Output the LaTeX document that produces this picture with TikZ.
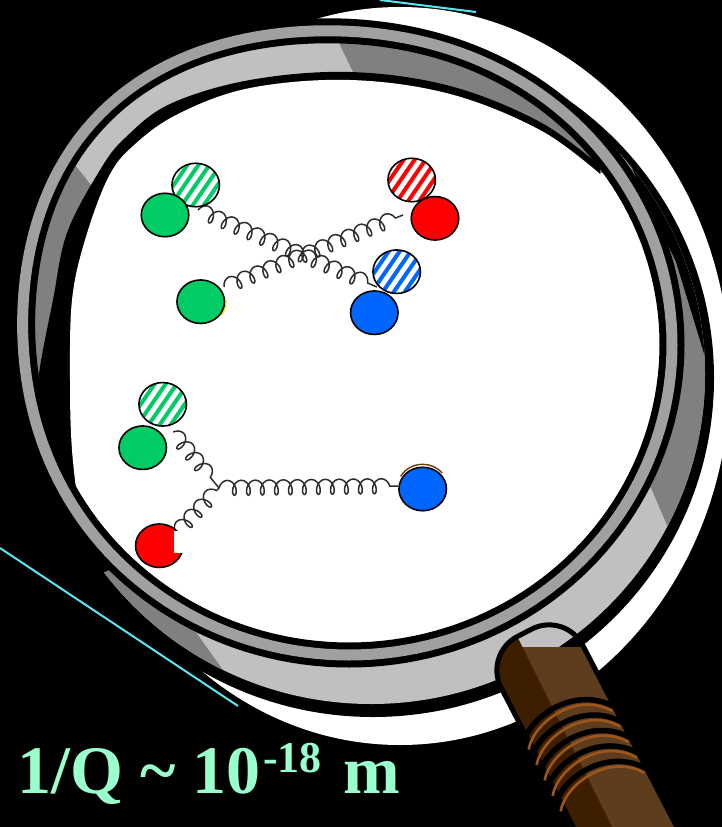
\documentclass[tikz,border=0pt]{standalone}
\usepackage{fontspec}
\setmainfont{Liberation Serif}
\usetikzlibrary{shapes.geometric,decorations.pathmorphing}

\definecolor{rimlight}{HTML}{C0C0C0}
\definecolor{rimdark}{HTML}{808080}
\definecolor{rimfront}{HTML}{A0A0A0}
\definecolor{qgreen}{RGB}{0,204,102}
\definecolor{qred}{RGB}{255,0,0}
\definecolor{qblue}{RGB}{0,102,255}
\definecolor{wooddark}{RGB}{61,31,0}
\definecolor{woodlight}{RGB}{94,60,30}
\definecolor{woodring}{RGB}{156,86,28}
\definecolor{mint}{RGB}{153,255,204}
\definecolor{ray}{RGB}{90,230,240}
\definecolor{spring}{RGB}{45,45,45}

\tikzset{
  declare function={rimr(\a)=1+0.07*(max(0,cos(\a-135)))^6;},
  ball/.style={ellipse, draw=black, line width=1.6pt, minimum width=47.5pt,
    minimum height=43.5pt, inner sep=0pt},
  quark/.style={ball, fill=#1},
  hatched/.style={ball, fill=white, path picture={
      \foreach \k in {-5,...,5}
        \draw[#1, line width=4pt]
          ([xshift=\k*11pt-22pt, yshift=-32pt]path picture bounding box.center)
          -- ++(44pt,64pt);}},
  gluon/.style={draw=spring, line width=1.5pt, decorate,
    decoration={coil, aspect=0.65, amplitude=7.5pt, segment length=14pt}},
  raystyle/.style={draw=ray, line width=2pt},
}

% light and shaded parts of the rim band
\newcommand\rimbandshading{%
  \fill[rimlight] (0,0) rectangle (722,827);
  \fill[rimdark] (318,0) -- (340,45) -- (353,72) -- (380,130) -- (645,478)
    -- (652,490) -- (672,537) -- (690,578) -- (740,578) -- (740,0) -- cycle;
  \fill[rimdark] (0,71) -- (87,180) -- (103,200) -- (130,240) -- (185,615)
    -- (200,638) -- (228,677) -- (256,716) -- (0,716) -- cycle;
}

\begin{document}
\begin{tikzpicture}[x=1pt, y=-1pt]
\useasboundingbox (0,0) rectangle (722,827);
\fill[black] (0,0) rectangle (722,827);

% light rays
\coordinate (r1a) at (0,548);   \coordinate (r1b) at (238,706);
\coordinate (r2a) at (380,0);   \coordinate (r2b) at (476,12);
\draw[raystyle] (r1a) -- (r1b);
\draw[raystyle] (r2a) -- (r2b);

% glare behind the glass
\fill[white] (400,376) ellipse [x radius=330, y radius=369];

% back rim: black edge and shaded band
\fill[black] (373,378) ellipse [x radius=341, y radius=339];
\begin{scope}
  \clip (371,374) ellipse [x radius=334, y radius=330];
  \rimbandshading
  \fill[black] (600,100) -- (740,100) -- (740,360) -- (706,360) -- (676,262) -- cycle;
\end{scope}
\begin{scope}
  \clip plot[domain=0:360, samples=181]
    ({349+323*cos(\x)*rimr(\x)}, {344.5-310.5*sin(\x)*rimr(\x)}) -- cycle;
  \rimbandshading
\end{scope}

% shadowed inner edge of the back rim
\fill[black] plot[smooth, tension=0.6] coordinates {(600,166) (540,122) (450,86)
  (350,72) (250,80) (170,104) (125,138) (100,170) (67,233) (53,300) (40,367)
  (34,420) (33,480) (45,540) (85,580)} -- (400,450) -- (600,300) -- cycle;

% glass
\begin{scope}
  \clip plot[domain=0:360, samples=181]
    ({349+323*cos(\x)*rimr(\x)}, {344.5-310.5*sin(\x)*rimr(\x)}) -- cycle;
  \fill[white] plot[smooth, tension=0.6] coordinates {(600,174) (540,130) (450,94)
    (350,80) (250,88) (178,114) (133,146) (108,178) (85,240) (72,300) (70,380)
    (72,450) (80,520)} -- (100,720) -- (720,720) -- (720,100) -- cycle;
\end{scope}

% front rim
\draw[black, line width=7pt, double=rimfront, double distance=11pt]
  plot[domain=0:360, samples=181]
    ({349+323*cos(\x)*rimr(\x)}, {344.5-310.5*sin(\x)*rimr(\x)}) -- cycle;

% gluon end points
\coordinate (ga) at (198,210);  \coordinate (gb) at (377,287);
\coordinate (gc) at (224,287);  \coordinate (gd) at (403,215);
\coordinate (J)  at (219,488);
\coordinate (ge) at (173,432);  \coordinate (gf) at (176,533);
\coordinate (gg) at (398,486);

\draw[gluon] (ga) -- (gb);
\draw[gluon] (gc) -- (gd);
\draw[gluon] (ge) -- (J);
\draw[gluon] (gf) -- (J);
\draw[gluon] (J) -- (gg);

% quarks, upper group
\node[hatched=qgreen] (Gh1) at (195.7,185) {};
\node[quark=qgreen]   (G1)  at (165,215) {};
\draw[yellow!85!orange, line width=1.4pt] (200.7,301.7) ++(-5:25.4)
  arc[start angle=-5, end angle=35, x radius=25.4, y radius=23.4];
\node[quark=qgreen]   (G2)  at (200.7,301.7) {};
\node[hatched=qred]   (Rh)  at (411.7,180) {};
\node[quark=qred]     (R1)  at (435,218.3) {};
\node[hatched=qblue]  (Bh)  at (396.7,271.7) {};
\node[quark=qblue]    (B1)  at (374.3,312.7) {};

% quarks, lower group
\node[hatched=qgreen] (Gh2) at (162.7,404.3) {};
\node[quark=qgreen]   (G3)  at (142.7,447.7) {};
\node[quark=qred]     (R2)  at (159.3,545.7) {};
\fill[white] (173.5,531) rectangle (184,553);
\draw[woodring!70!black, line width=1.4pt] (422.7,489) ++(-150:25.4)
  arc[start angle=-150, end angle=-40, x radius=25.4, y radius=24];
\node[quark=qblue]    (B2)  at (422.7,489) {};

% handle
\begin{scope}[shift={(536,655)}, x={(0.888pt,0.46pt)}, y={(0.46pt,-0.888pt)}]
  \begin{scope}
    \clip[rounded corners=38pt] (-46,340) -- (-46,-25) -- (46,-25) -- (46,340) -- cycle;
    \fill[woodlight] (-60,-40) rectangle (60,350);
    \fill[wooddark] (-60,-40) -- (-8,-40) -- (-14,350) -- (-60,350) -- cycle;
  \end{scope}
  \draw[black, line width=5pt, rounded corners=38pt]
    (-46,340) -- (-46,-25) -- (46,-25) -- (46,340);
  \foreach \t in {54,71.4,88.8,106.2,123.6} {
    \draw[black, line width=5.5pt] (-53,\t+20) .. controls (-35,\t-3) and (22,\t-10) .. (47,\t+30);
    \draw[woodring, line width=2.6pt] (-50,\t+26.5) .. controls (-33,\t+4) and (20,\t-3) .. (42,\t+31);
  }
\end{scope}

% scale label
\node[anchor=base west, inner sep=0pt, text=mint,
      font=\fontsize{68pt}{68pt}\selectfont\bfseries] (scale) at (17,793)
  {1/Q \textasciitilde{} 10\kern3pt\raisebox{21pt}{\fontsize{44pt}{44pt}\selectfont -18}\hspace{5pt} m};
\end{tikzpicture}
\end{document}
